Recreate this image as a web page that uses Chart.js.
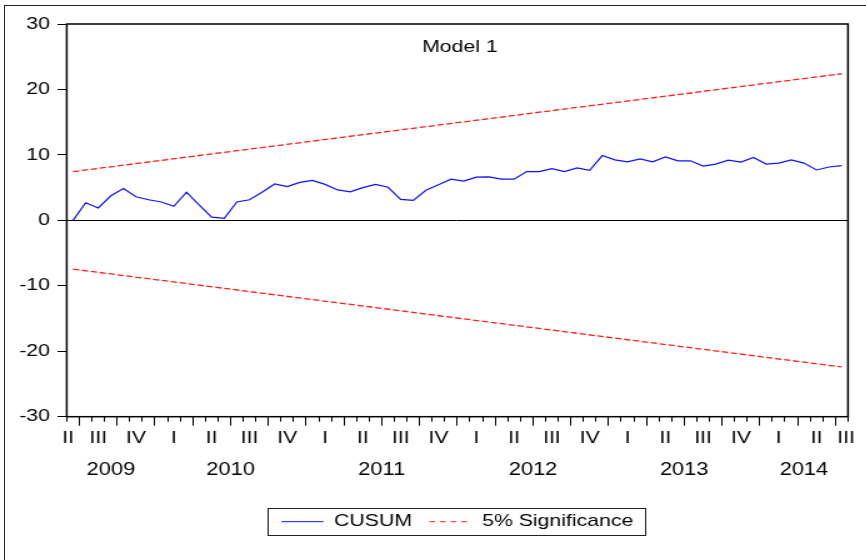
<!DOCTYPE html>
<html><head><meta charset="utf-8">
<script src="https://cdn.jsdelivr.net/npm/chart.js@4.4.1/dist/chart.umd.min.js"></script>
<style>
html,body{margin:0;padding:0;background:#fff;overflow:hidden;width:866px;height:560px;}
#frame{position:absolute;left:3.5px;top:4.5px;width:900px;height:600px;border-left:1.5px solid #222;border-top:1.5px solid #222;}
#wrap{position:absolute;left:0;top:0;width:693px;height:560px;transform:scaleX(1.25);transform-origin:0 0;}
</style></head><body>
<div id="frame"></div>
<div id="wrap"><canvas id="c" width="693" height="560"></canvas></div>
<script>
// ---------- data ----------
const chartTitle = 'Model 1';
const months = [
 '2009-06','2009-07','2009-08','2009-09','2009-10','2009-11','2009-12',
 '2010-01','2010-02','2010-03','2010-04','2010-05','2010-06','2010-07','2010-08','2010-09','2010-10','2010-11','2010-12',
 '2011-01','2011-02','2011-03','2011-04','2011-05','2011-06','2011-07','2011-08','2011-09','2011-10','2011-11','2011-12',
 '2012-01','2012-02','2012-03','2012-04','2012-05','2012-06','2012-07','2012-08','2012-09','2012-10','2012-11','2012-12',
 '2013-01','2013-02','2013-03','2013-04','2013-05','2013-06','2013-07','2013-08','2013-09','2013-10','2013-11','2013-12',
 '2014-01','2014-02','2014-03','2014-04','2014-05','2014-06','2014-07'
];
const cusum = [
 0, 2.7, 1.9, 3.75, 4.85, 3.6, 3.15,
 2.8, 2.15, 4.3, 2.35, 0.5, 0.3, 2.8, 3.15, 4.3, 5.55, 5.15, 5.8,
 6.1, 5.5, 4.65, 4.35, 5.0, 5.5, 5.05, 3.2, 3.05, 4.6, 5.45, 6.3,
 6.0, 6.6, 6.65, 6.3, 6.3, 7.45, 7.45, 7.9, 7.45, 8.0, 7.65, 9.9,
 9.25, 8.95, 9.4, 8.95, 9.7, 9.1, 9.1, 8.3, 8.6, 9.2, 8.9, 9.6,
 8.6, 8.75, 9.25, 8.75, 7.7, 8.15, 8.35
];
const upper5 = [7.45, 22.4];   // first month, last month
const lower5 = [-7.45, -22.4];
const quarterLabels = ['II','III','IV','I','II','III','IV','I','II','III','IV','I','II','III','IV','I','II','III','IV','I','II','III'];
const yearLabels = ['2009','2010','2011','2012','2013','2014'];
const yTickValues = [-30,-20,-10,0,10,20,30];

// ---------- derived tick positions ----------
const n = months.length;
const xMin = -0.5, xMax = n - 0.5;
const monthNum = s => +s.slice(5);
const qPos = [];
months.forEach((s, i) => {
  const p = i - ((monthNum(s) - 1) % 3) + 1; // middle month of the quarter
  if (!qPos.length || qPos[qPos.length - 1] !== p) qPos.push(p);
});
const labelTicks = qPos.map((p, k) => ({value: Math.min(Math.max(p, xMin + 0.1), xMax - 0.15), txt: quarterLabels[k], kind: 'label'}));
const boundTicks = [];
for (let k = 0; k <= n; k++) {
  const m = k < n ? monthNum(months[k]) : (monthNum(months[n - 1]) % 12) + 1;
  boundTicks.push({value: k - 0.5, txt: '', kind: (m - 1) % 3 === 0 ? 'major' : 'minor'});
}
const xTicks = boundTicks.concat(labelTicks).sort((a, b) => a.value - b.value);
const yearTicks = yearLabels.map(y => {
  const idx = months.map((s, i) => s.startsWith(y) ? i : -1).filter(i => i >= 0);
  return {value: (idx[0] + idx[idx.length - 1]) / 2, txt: y};
});

Chart.defaults.font.family = "'Liberation Sans', Arial, sans-serif";
Chart.defaults.color = '#000';

const frameAndTitle = {
  id: 'frameAndTitle',
  afterDatasetsDraw(chart) {
    const {ctx, chartArea: a} = chart;
    ctx.save();
    ctx.strokeStyle = '#000';
    ctx.lineWidth = 1.5;
    ctx.strokeRect(a.left, a.top, a.right - a.left, a.bottom - a.top);
    ctx.fillStyle = '#000';
    ctx.font = "17px 'Liberation Sans', Arial, sans-serif";
    ctx.textAlign = 'center';
    ctx.textBaseline = 'middle';
    ctx.fillText(chartTitle, (a.left + a.right) / 2 + 2, 47);
    ctx.restore();
  },
  afterDraw(chart) {
    const lg = chart.legend;
    if (!lg || !lg.legendHitBoxes || !lg.legendHitBoxes.length) return;
    const hb = lg.legendHitBoxes;
    const first = hb[0], last = hb[hb.length - 1];
    const cy = first.top + first.height / 2;
    const ctx = chart.ctx;
    ctx.save();
    ctx.strokeStyle = '#222';
    ctx.lineWidth = 1;
    const l = Math.round(first.left - 11) + 0.5, r = Math.round(last.left + last.width + 9) + 0.5;
    const t = Math.round(cy - 13.5) + 0.5, b = Math.round(cy + 13.5) + 0.5;
    ctx.strokeRect(l, t, r - l, b - t);
    ctx.restore();
  }
};

new Chart(document.getElementById('c'), {
  type: 'line',
  data: {
    datasets: [
      {label: 'CUSUM', data: cusum.map((v, i) => ({x: i, y: v})), borderColor: '#1010ff', backgroundColor: '#1010ff', borderWidth: 1.2, pointRadius: 0, tension: 0},
      {label: '5% Significance', data: [{x: 0, y: upper5[0]}, {x: n - 1, y: upper5[1]}], borderColor: '#ff1a1a', backgroundColor: '#ff1a1a', borderDash: [5, 2.2], borderWidth: 1.3, pointRadius: 0},
      {label: 'lower', data: [{x: 0, y: lower5[0]}, {x: n - 1, y: lower5[1]}], borderColor: '#ff1a1a', backgroundColor: '#ff1a1a', borderDash: [5, 2.2], borderWidth: 1.3, pointRadius: 0}
    ]
  },
  options: {
    responsive: false,
    animation: false,
    devicePixelRatio: 1,
    layout: {padding: {top: 24, right: 14.6, left: 0, bottom: 19.8}},
    plugins: {
      tooltip: {enabled: false},
      title: {display: false},
      legend: {
        position: 'bottom',
        fullSize: false,
        labels: {
          filter: item => item.datasetIndex < 2,
          generateLabels: chart => Chart.defaults.plugins.legend.labels.generateLabels(chart).map(it => {
            if (it.datasetIndex > 0) it.lineDash = [4.5, 4];
            it.lineWidth = 1;
            return it;
          }),
          usePointStyle: true,
          pointStyle: 'line',
          pointStyleWidth: 33.6,
          padding: 14,
          font: {size: 17},
          color: '#000'
        }
      }
    },
    scales: {
      x: {
        type: 'linear', position: 'bottom', min: xMin, max: xMax, weight: 0,
        afterBuildTicks: s => { s.ticks = xTicks.map(t => Object.assign({}, t)); },
        afterFit: s => { s.height = 31.5; },
        border: {display: false},
        grid: {
          drawOnChartArea: false, drawTicks: true, tickLength: 9, tickWidth: 1,
          tickColor: c => (c.tick && c.tick.kind !== 'label') ? '#000' : 'rgba(0,0,0,0)',
          tickBorderDash: c => (c.tick && c.tick.kind === 'minor') ? [4.7, 30] : []
        },
        ticks: {
          autoSkip: false, maxRotation: 0, minRotation: 0, padding: 2,
          font: {size: 17}, color: '#000',
          callback: (v, i, ts) => ts[i].txt
        }
      },
      xYear: {
        type: 'linear', position: 'bottom', min: xMin, max: xMax, weight: 1,
        afterBuildTicks: s => { s.ticks = yearTicks.map(t => Object.assign({}, t)); },
        afterFit: s => { s.height = 51; },
        border: {display: false},
        grid: {display: false, drawTicks: false, tickLength: 0},
        ticks: {
          autoSkip: false, maxRotation: 0, minRotation: 0, padding: 11.4,
          font: {size: 17.5}, color: '#000',
          callback: (v, i, ts) => ts[i].txt
        }
      },
      y: {
        type: 'linear', position: 'left', min: -30, max: 30,
        afterBuildTicks: s => { s.ticks = yTickValues.map(v => ({value: v})); },
        afterFit: s => { s.width = 53.4; },
        border: {display: false},
        grid: {
          drawOnChartArea: true, drawTicks: true, tickLength: 7.4, tickWidth: 1,
          color: c => (c.tick && c.tick.value === 0) ? '#000' : 'rgba(0,0,0,0)',
          lineWidth: 1,
          tickColor: '#000'
        },
        ticks: {padding: 6, font: {size: 17}, color: '#000', callback: v => String(v)}
      }
    }
  },
  plugins: [frameAndTitle]
});
</script>
</body></html>
